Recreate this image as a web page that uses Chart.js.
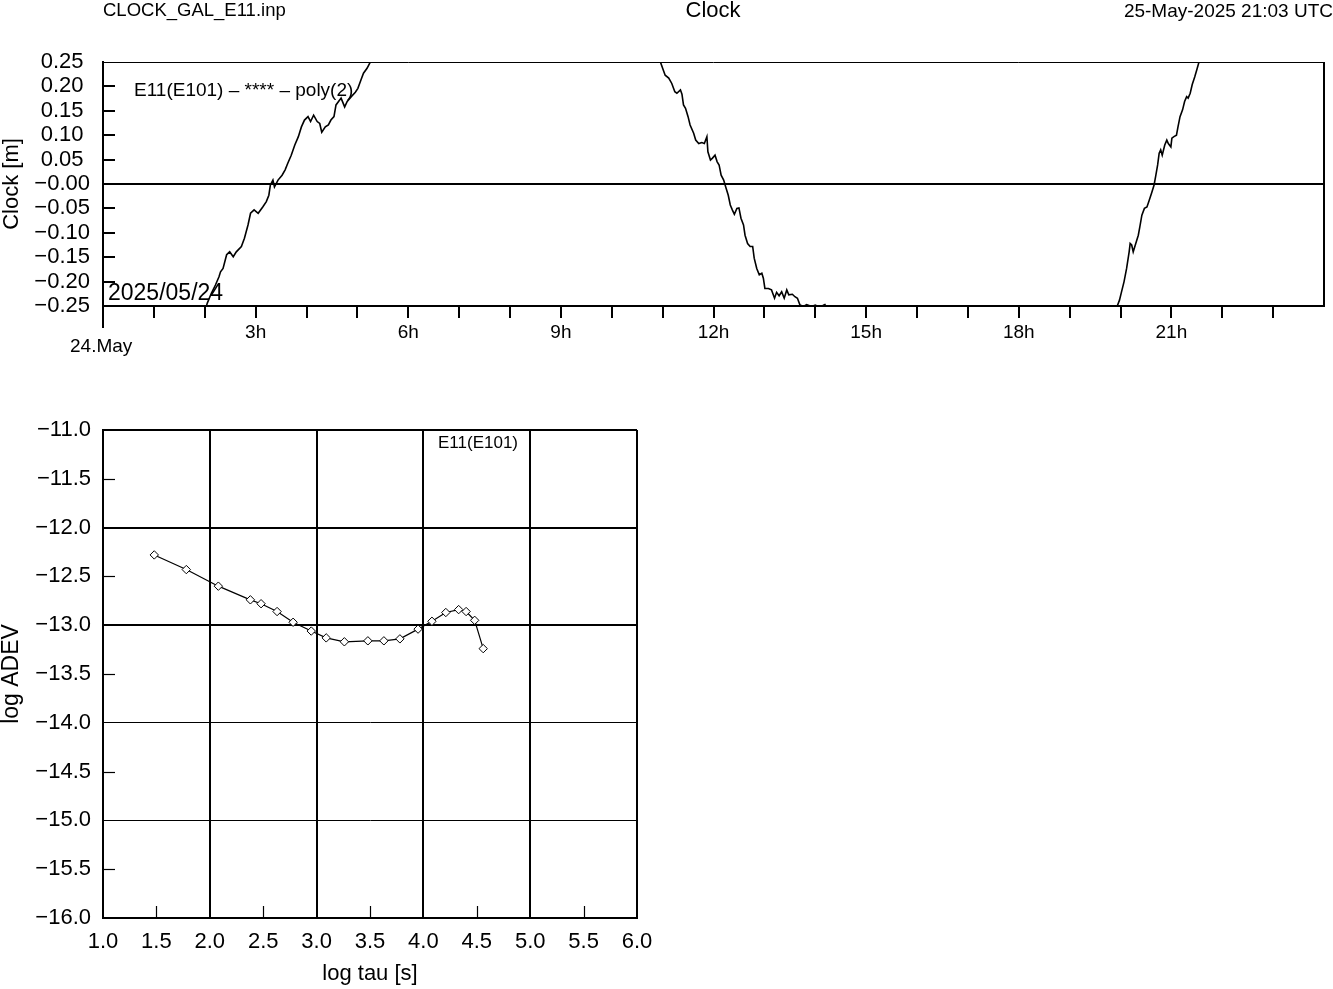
<!DOCTYPE html>
<html>
<head>
<meta charset="utf-8">
<title>Clock</title>
<script src="https://cdn.jsdelivr.net/npm/chart.js@4.4.1/dist/chart.umd.min.js"></script>
<style>
  body { margin: 0; background: #fff; width: 1333px; height: 989px; position: relative; overflow: hidden;
         font-family: "Liberation Sans", Arial, sans-serif; color: #000; }
  .txt { position: absolute; white-space: nowrap; line-height: 1; }
  #clockBox { position: absolute; left: 0; top: 0; width: 1333px; height: 370px; }
  #adevBox { position: absolute; left: 0; top: 380px; width: 680px; height: 609px; }
</style>
</head>
<body>
<div id="clockBox"><canvas id="clockChart" width="1333" height="370"></canvas></div>
<div id="adevBox"><canvas id="adevChart" width="680" height="609"></canvas></div>

<div class="txt" style="left:103px;top:1px;font-size:18.5px">CLOCK_GAL_E11.inp</div>
<div class="txt" style="left:713px;top:-1px;font-size:22px;transform:translateX(-50%)">Clock</div>
<div class="txt" style="right:0;top:1px;font-size:19px">25-May-2025 21:03 UTC</div>
<div class="txt" style="left:134px;top:80px;font-size:19px">E11(E101) – **** – poly(2)</div>
<div class="txt" style="left:108px;top:281px;font-size:23px">2025/05/24</div>
<div class="txt" style="left:70px;top:336px;font-size:19px">24.May</div>
<div class="txt" style="left:438px;top:434px;font-size:17px">E11(E101)</div>

<script>
// clock residuals [m] against hour of 24 May 2025
const segHours1 = [2.03, 2.05, 2.13, 2.21, 2.28, 2.31, 2.36, 2.43, 2.49, 2.56, 2.62, 2.72, 2.78, 2.85, 2.90, 2.97, 3.05, 3.14,
  3.21, 3.26, 3.29, 3.34, 3.37, 3.44, 3.52, 3.58, 3.63, 3.70, 3.77, 3.84, 3.90, 3.96, 4.03, 4.08, 4.14, 4.21, 4.26, 4.30,
  4.37, 4.43, 4.48, 4.54, 4.58, 4.63, 4.68, 4.75, 4.80, 4.88, 4.96, 5.01, 5.07, 5.12, 5.19, 5.26];
const segClock1 = [-0.251, -0.244, -0.224, -0.207, -0.190, -0.180, -0.173, -0.145, -0.139, -0.149, -0.139, -0.128, -0.111,
  -0.084, -0.060, -0.053, -0.060, -0.047, -0.036, -0.023, -0.002, 0.008, -0.006, 0.008, 0.018, 0.029, 0.042, 0.059, 0.080,
  0.097, 0.117, 0.131, 0.138, 0.128, 0.141, 0.128, 0.124, 0.106, 0.117, 0.121, 0.131, 0.138, 0.162, 0.169, 0.176, 0.158,
  0.169, 0.179, 0.188, 0.196, 0.213, 0.227, 0.237, 0.251];

const segHours2 = [10.93, 10.96, 11.00, 11.05, 11.12, 11.18, 11.24, 11.28, 11.35, 11.38, 11.41, 11.45, 11.50, 11.54, 11.61,
  11.65, 11.71, 11.77, 11.82, 11.87, 11.89, 11.94, 11.98, 12.03, 12.07, 12.11, 12.15, 12.20, 12.24, 12.29, 12.33, 12.37,
  12.41, 12.46, 12.50, 12.54, 12.59, 12.62, 12.67, 12.72, 12.77, 12.80, 12.85, 12.90, 12.95, 12.98, 13.01, 13.08, 13.14,
  13.20, 13.24, 13.29, 13.34, 13.39, 13.44, 13.48, 13.55, 13.60, 13.65, 13.70, 13.77, 13.83, 13.93, 14.00, 14.08, 14.15,
  14.19, 14.22];
const segClock2 = [0.253, 0.249, 0.237, 0.223, 0.217, 0.206, 0.189, 0.186, 0.193, 0.184, 0.162, 0.155, 0.138, 0.121, 0.104,
  0.090, 0.083, 0.085, 0.083, 0.097, 0.066, 0.049, 0.053, 0.059, 0.046, 0.039, 0.018, 0.008, -0.006, -0.023, -0.043, -0.053,
  -0.062, -0.050, -0.049, -0.070, -0.084, -0.105, -0.122, -0.128, -0.128, -0.152, -0.173, -0.186, -0.183, -0.193, -0.214,
  -0.214, -0.217, -0.234, -0.222, -0.229, -0.221, -0.234, -0.217, -0.227, -0.226, -0.231, -0.234, -0.248, -0.251, -0.247,
  -0.251, -0.248, -0.252, -0.249, -0.247, -0.253];

const segHours3 = [19.94, 19.98, 20.02, 20.07, 20.12, 20.17, 20.19, 20.22, 20.25, 20.30, 20.35, 20.38, 20.42, 20.47, 20.52,
  20.56, 20.61, 20.66, 20.69, 20.73, 20.76, 20.79, 20.82, 20.87, 20.91, 20.94, 20.99, 21.01, 21.05, 21.10, 21.13, 21.17,
  21.22, 21.26, 21.30, 21.33, 21.37, 21.41, 21.46, 21.50, 21.54, 21.56];
const segClock3 = [-0.249, -0.238, -0.221, -0.200, -0.173, -0.139, -0.122, -0.125, -0.139, -0.122, -0.105, -0.088, -0.064,
  -0.050, -0.047, -0.035, -0.019, -0.002, 0.015, 0.039, 0.063, 0.070, 0.059, 0.080, 0.090, 0.083, 0.076, 0.094, 0.097,
  0.100, 0.117, 0.138, 0.152, 0.169, 0.179, 0.176, 0.186, 0.204, 0.220, 0.234, 0.249, 0.253];

const hourLabels = [3, 6, 9, 12, 15, 18, 21];   // every third hour gets a label

// Allan deviation
const logTau = [1.48, 1.78, 2.08, 2.38, 2.48, 2.63, 2.78, 2.95, 3.09, 3.26, 3.48, 3.63, 3.78, 3.95, 4.08, 4.21, 4.33,
  4.40, 4.48, 4.56];
const logAdev = [-12.28, -12.43, -12.60, -12.74, -12.78, -12.86, -12.97, -13.06, -13.13, -13.17, -13.16, -13.16, -13.14,
  -13.04, -12.96, -12.87, -12.84, -12.86, -12.95, -13.24];

Chart.defaults.font.family = '"Liberation Sans", Arial, sans-serif';
Chart.defaults.color = '#000';

const minus = '\u2212';
const isInt = v => Math.abs(v - Math.round(v)) < 1e-9;

function seg(hours, vals) {
  return hours.map((h, i) => ({ x: h, y: vals[i] }));
}
const clockPoints = [].concat(
  seg(segHours1, segClock1), [{ x: 8, y: null }],
  seg(segHours2, segClock2), [{ x: 17, y: null }],
  seg(segHours3, segClock3)
);

function line(ctx, x1, y1, x2, y2) {
  ctx.beginPath();
  ctx.moveTo(x1, y1);
  ctx.lineTo(x2, y2);
  ctx.stroke();
}

// frame pieces Chart.js does not draw on its own
const clockFrame = {
  id: 'clockFrame',
  afterDraw(chart) {
    const { ctx, chartArea: a, scales: { y } } = chart;
    ctx.save();
    ctx.strokeStyle = '#000';
    ctx.lineWidth = 1;
    line(ctx, a.left, a.top + 0.5, a.right, a.top + 0.5);
    ctx.lineWidth = 2;
    line(ctx, a.right, a.top, a.right, a.bottom);
    line(ctx, a.left, a.top, a.left, a.bottom + 22);
    y.ticks.forEach(t => {
      if (t.value <= y.min + 1e-9 || t.value >= y.max - 1e-9 || Math.abs(t.value) < 1e-9) return;
      const py = Math.round(y.getPixelForValue(t.value));
      line(ctx, a.left, py, a.left + 12, py);
    });
    ctx.restore();
  }
};

const adevFrame = {
  id: 'adevFrame',
  afterDraw(chart) {
    const { ctx, chartArea: a, scales: { x, y } } = chart;
    ctx.save();
    ctx.strokeStyle = '#000';
    ctx.lineWidth = 2;
    line(ctx, a.left, a.top, a.right, a.top);
    line(ctx, a.right, a.top, a.right, a.bottom);
    ctx.lineWidth = 1.2;
    y.ticks.forEach(t => {
      if (isInt(t.value)) return;
      const py = Math.round(y.getPixelForValue(t.value)) + 0.5;
      line(ctx, a.left, py, a.left + 12, py);
    });
    x.ticks.forEach(t => {
      if (isInt(t.value)) return;
      const px = Math.round(x.getPixelForValue(t.value)) + 0.5;
      line(ctx, px, a.bottom, px, a.bottom - 12);
    });
    ctx.restore();
  }
};

new Chart(document.getElementById('clockChart'), {
  type: 'line',
  data: {
    datasets: [{
      data: clockPoints,
      borderColor: '#000',
      borderWidth: 1.6,
      pointRadius: 0,
      tension: 0,
      spanGaps: false
    }]
  },
  options: {
    responsive: false,
    animation: false,
    devicePixelRatio: 1,
    events: [],
    layout: { padding: { top: 62, right: 9, left: 0, bottom: 0 } },
    plugins: { legend: { display: false }, tooltip: { enabled: false } },
    scales: {
      x: {
        type: 'linear', min: 0, max: 24,
        afterFit: s => { s.height = 64; },
        border: { display: true, color: '#000', width: 2 },
        grid: {
          drawOnChartArea: false, drawTicks: true, tickLength: 12, lineWidth: 2,
          color: c => (c.tick && c.tick.value === 24) ? 'rgba(0,0,0,0)' : '#000'
        },
        ticks: {
          stepSize: 1, autoSkip: false, maxRotation: 0, padding: 3, maxTicksLimit: 100,
          font: { size: 19 },
          callback: v => hourLabels.includes(v) ? v + 'h' : ''
        }
      },
      y: {
        min: -0.25, max: 0.25,
        afterFit: s => { s.width = 103; },
        border: { display: true, color: '#000', width: 2 },
        grid: {
          drawTicks: false, lineWidth: 2,
          color: c => (c.tick && Math.abs(c.tick.value) < 1e-9) ? '#000' : 'rgba(0,0,0,0)'
        },
        ticks: {
          stepSize: 0.05, autoSkip: false, maxTicksLimit: 100, padding: 13, crossAlign: 'center', font: { size: 22 },
          callback: v => (v < 1e-9 ? minus : '') + Math.abs(v).toFixed(2)
        },
        title: { display: true, text: 'Clock [m]', font: { size: 22, lineHeight: 1 }, padding: { top: 1, bottom: 0 } }
      }
    }
  },
  plugins: [clockFrame]
});

new Chart(document.getElementById('adevChart'), {
  type: 'line',
  data: {
    datasets: [{
      data: logTau.map((t, i) => ({ x: t, y: logAdev[i] })),
      borderColor: '#000',
      borderWidth: 1.2,
      pointStyle: 'rectRot',
      pointRadius: 4.2,
      pointBorderWidth: 1,
      pointBorderColor: '#000',
      pointBackgroundColor: '#fff',
      tension: 0
    }]
  },
  options: {
    responsive: false,
    animation: false,
    devicePixelRatio: 1,
    events: [],
    layout: { padding: { top: 50, right: 43, left: 0, bottom: 0 } },
    plugins: { legend: { display: false }, tooltip: { enabled: false } },
    scales: {
      x: {
        type: 'linear', min: 1, max: 6,
        afterFit: s => { s.height = 71; },
        border: { display: true, color: '#000', width: 2 },
        grid: {
          drawTicks: false, lineWidth: 2,
          color: c => (c.tick && isInt(c.tick.value) && c.tick.value > 1 && c.tick.value < 6) ? '#000' : 'rgba(0,0,0,0)'
        },
        ticks: {
          stepSize: 0.5, autoSkip: false, maxRotation: 0, padding: 11, font: { size: 22 },
          callback: v => v.toFixed(1)
        },
        title: { display: true, text: 'log tau [s]', font: { size: 22, lineHeight: 1 }, padding: { top: 0, bottom: 4 } }
      },
      y: {
        min: -16, max: -11,
        afterFit: s => { s.width = 103; },
        border: { display: true, color: '#000', width: 2 },
        grid: {
          drawTicks: false,
          lineWidth: c => (c.tick && c.tick.value >= -13.5) ? 2 : 1,
          color: c => (c.tick && isInt(c.tick.value) && c.tick.value > -16 && c.tick.value < -11) ? '#000' : 'rgba(0,0,0,0)'
        },
        ticks: {
          stepSize: 0.5, autoSkip: false, padding: 12, font: { size: 22 },
          callback: v => (v < 0 ? minus : '') + Math.abs(v).toFixed(1)
        },
        title: { display: true, text: 'log ADEV', font: { size: 23, lineHeight: 1 }, padding: { top: 0, bottom: 0 } }
      }
    }
  },
  plugins: [adevFrame]
});
</script>
</body>
</html>
